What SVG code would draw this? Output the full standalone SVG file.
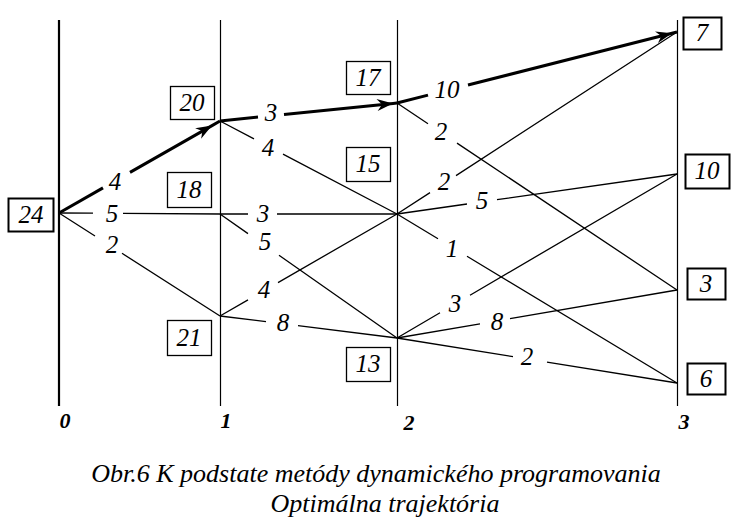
<svg xmlns="http://www.w3.org/2000/svg" width="744" height="530" viewBox="0 0 744 530">
<defs>
<style>
.ax{stroke:#000;stroke-width:1.2;fill:none}
.ax0{stroke:#000;stroke-width:2.2;fill:none}
.e{stroke:#000;stroke-width:1.3;fill:none}
.opt{stroke:#000;stroke-width:3;fill:none;marker-mid:url(#arr)}
.optp{stroke:#000;stroke-width:3;fill:none}
.box{fill:#fff;stroke:#000;stroke-width:1.3}
.boxb{fill:#fff;stroke:#000;stroke-width:2}
.nt{font-family:"Liberation Serif","Times New Roman",serif;font-style:italic;font-size:25px;text-anchor:middle;fill:#000}
.lb{font-family:"Liberation Serif","Times New Roman",serif;font-style:italic;font-size:25px;text-anchor:middle;fill:#000}
.st{font-family:"Liberation Serif","Times New Roman",serif;font-style:italic;font-weight:bold;font-size:22px;text-anchor:middle;fill:#000}
.cap{font-family:"Liberation Serif","Times New Roman",serif;font-style:italic;font-size:26px;text-anchor:middle;fill:#000}
</style>
<marker id="arr" markerUnits="userSpaceOnUse" markerWidth="20" markerHeight="14" viewBox="-16 -7 20 14" refX="0" refY="0" orient="auto" overflow="visible">
<path d="M0,0 L-16,-6 L-11,0 L-16,6 Z" fill="#000"/>
</marker>
</defs>
<rect width="744" height="530" fill="#fff"/>

<g id="axes">
<line class="ax0" x1="59" y1="20" x2="59" y2="406"/>
<line class="ax" x1="220.5" y1="20" x2="220.5" y2="406"/>
<line class="ax" x1="397.5" y1="20" x2="397.5" y2="406"/>
<line class="ax" x1="677.5" y1="20" x2="677.5" y2="406"/>
<text class="st" x="65" y="428">0</text>
<text class="st" x="226" y="428">1</text>
<text class="st" x="409" y="430">2</text>
<text class="st" x="684" y="429">3</text>
</g>

<g id="connectors">
<path class="optp" d="M59,213 L103,187.9"/>
<polyline class="opt" points="130,172.4 212,125.6 220,121"/>
<path class="e" d="M59,213 L93,213.2 M123,213.4 L220,214"/>
<path class="e" d="M59,213 L95,236 M122,253.3 L220,316"/>
<path class="optp" d="M220,121 L258,117.1"/>
<polyline class="opt" points="284,114.5 393,103.4 397,103"/>
<path class="e" d="M220,121 L254,138.9 M283,154.1 L397,214"/>
<path class="e" d="M220,214 L248,214 M277,214 L397,214"/>
<path class="e" d="M220,214 L248,233.6 M279,255.3 L397,338"/>
<path class="e" d="M220,316 L248,299.9 M278,282.6 L397,214"/>
<path class="e" d="M220,316 L266,321.7 M298,325.7 L397,338"/>
<path class="optp" d="M397,103 L428,95.1"/>
<polyline class="opt" points="468,85 672,33.3 677,32"/>
<path class="e" d="M397,103 L428,123.7 M457,143.1 L677,290"/>
<path class="e" d="M397,214 L430,192.6 M456,175.6 L677,32"/>
<path class="e" d="M397,214 L467,204 M497,199.7 L677,174"/>
<path class="e" d="M397,214 L438,238.7 M467,256.3 L677,383"/>
<path class="e" d="M397,338 L440,312.8 M470,295.2 L677,174"/>
<path class="e" d="M397,338 L480,323.8 M510,318.6 L677,290"/>
<path class="e" d="M397,338 L513,356.6 M547,362.1 L677,383"/>
</g>

<g id="edge-labels">
<text class="lb" x="115" y="190">4</text>
<text class="lb" x="112" y="222">5</text>
<text class="lb" x="112" y="253">2</text>
<text class="lb" x="271" y="121">3</text>
<text class="lb" x="268" y="156">4</text>
<text class="lb" x="263" y="222">3</text>
<text class="lb" x="265" y="250">5</text>
<text class="lb" x="264" y="298">4</text>
<text class="lb" x="283" y="331">8</text>
<text class="lb" x="447" y="98">10</text>
<text class="lb" x="441" y="140">2</text>
<text class="lb" x="444" y="190">2</text>
<text class="lb" x="482" y="209">5</text>
<text class="lb" x="452" y="257">1</text>
<text class="lb" x="455" y="312">3</text>
<text class="lb" x="497" y="330">8</text>
<text class="lb" x="527" y="365">2</text>
</g>

<g id="n0"><rect class="boxb" x="8.5" y="198.5" width="45" height="33"/><text class="nt" x="31" y="223">24</text></g>
<g id="n1a"><rect class="box" x="170.5" y="86.5" width="44" height="33"/><text class="nt" x="192" y="111">20</text></g>
<g id="n1b"><rect class="box" x="167.5" y="172.5" width="44" height="35"/><text class="nt" x="189" y="198">18</text></g>
<g id="n1c"><rect class="box" x="167.5" y="320.5" width="44" height="35"/><text class="nt" x="189" y="346">21</text></g>
<g id="n2a"><rect class="box" x="346.5" y="61.5" width="44" height="33"/><text class="nt" x="368" y="86">17</text></g>
<g id="n2b"><rect class="box" x="346.5" y="147.5" width="44" height="34"/><text class="nt" x="368" y="172">15</text></g>
<g id="n2c"><rect class="box" x="346.5" y="347.5" width="44" height="34"/><text class="nt" x="368" y="372">13</text></g>
<g id="n3a"><rect class="boxb" x="683.5" y="17.5" width="38" height="32"/><text class="nt" x="702" y="41">7</text></g>
<g id="n3b"><rect class="boxb" x="685.5" y="154.5" width="44" height="34"/><text class="nt" x="707" y="179">10</text></g>
<g id="n3c"><rect class="boxb" x="687.5" y="268.5" width="38" height="31"/><text class="nt" x="706" y="292">3</text></g>
<g id="n3d"><rect class="boxb" x="687.5" y="363.5" width="38" height="31"/><text class="nt" x="706" y="387">6</text></g>

<g id="caption">
<text class="cap" x="376" y="482">Obr.6 K podstate metódy dynamického programovania</text>
<text class="cap" x="385" y="512">Optimálna trajektória</text>
</g>
</svg>
